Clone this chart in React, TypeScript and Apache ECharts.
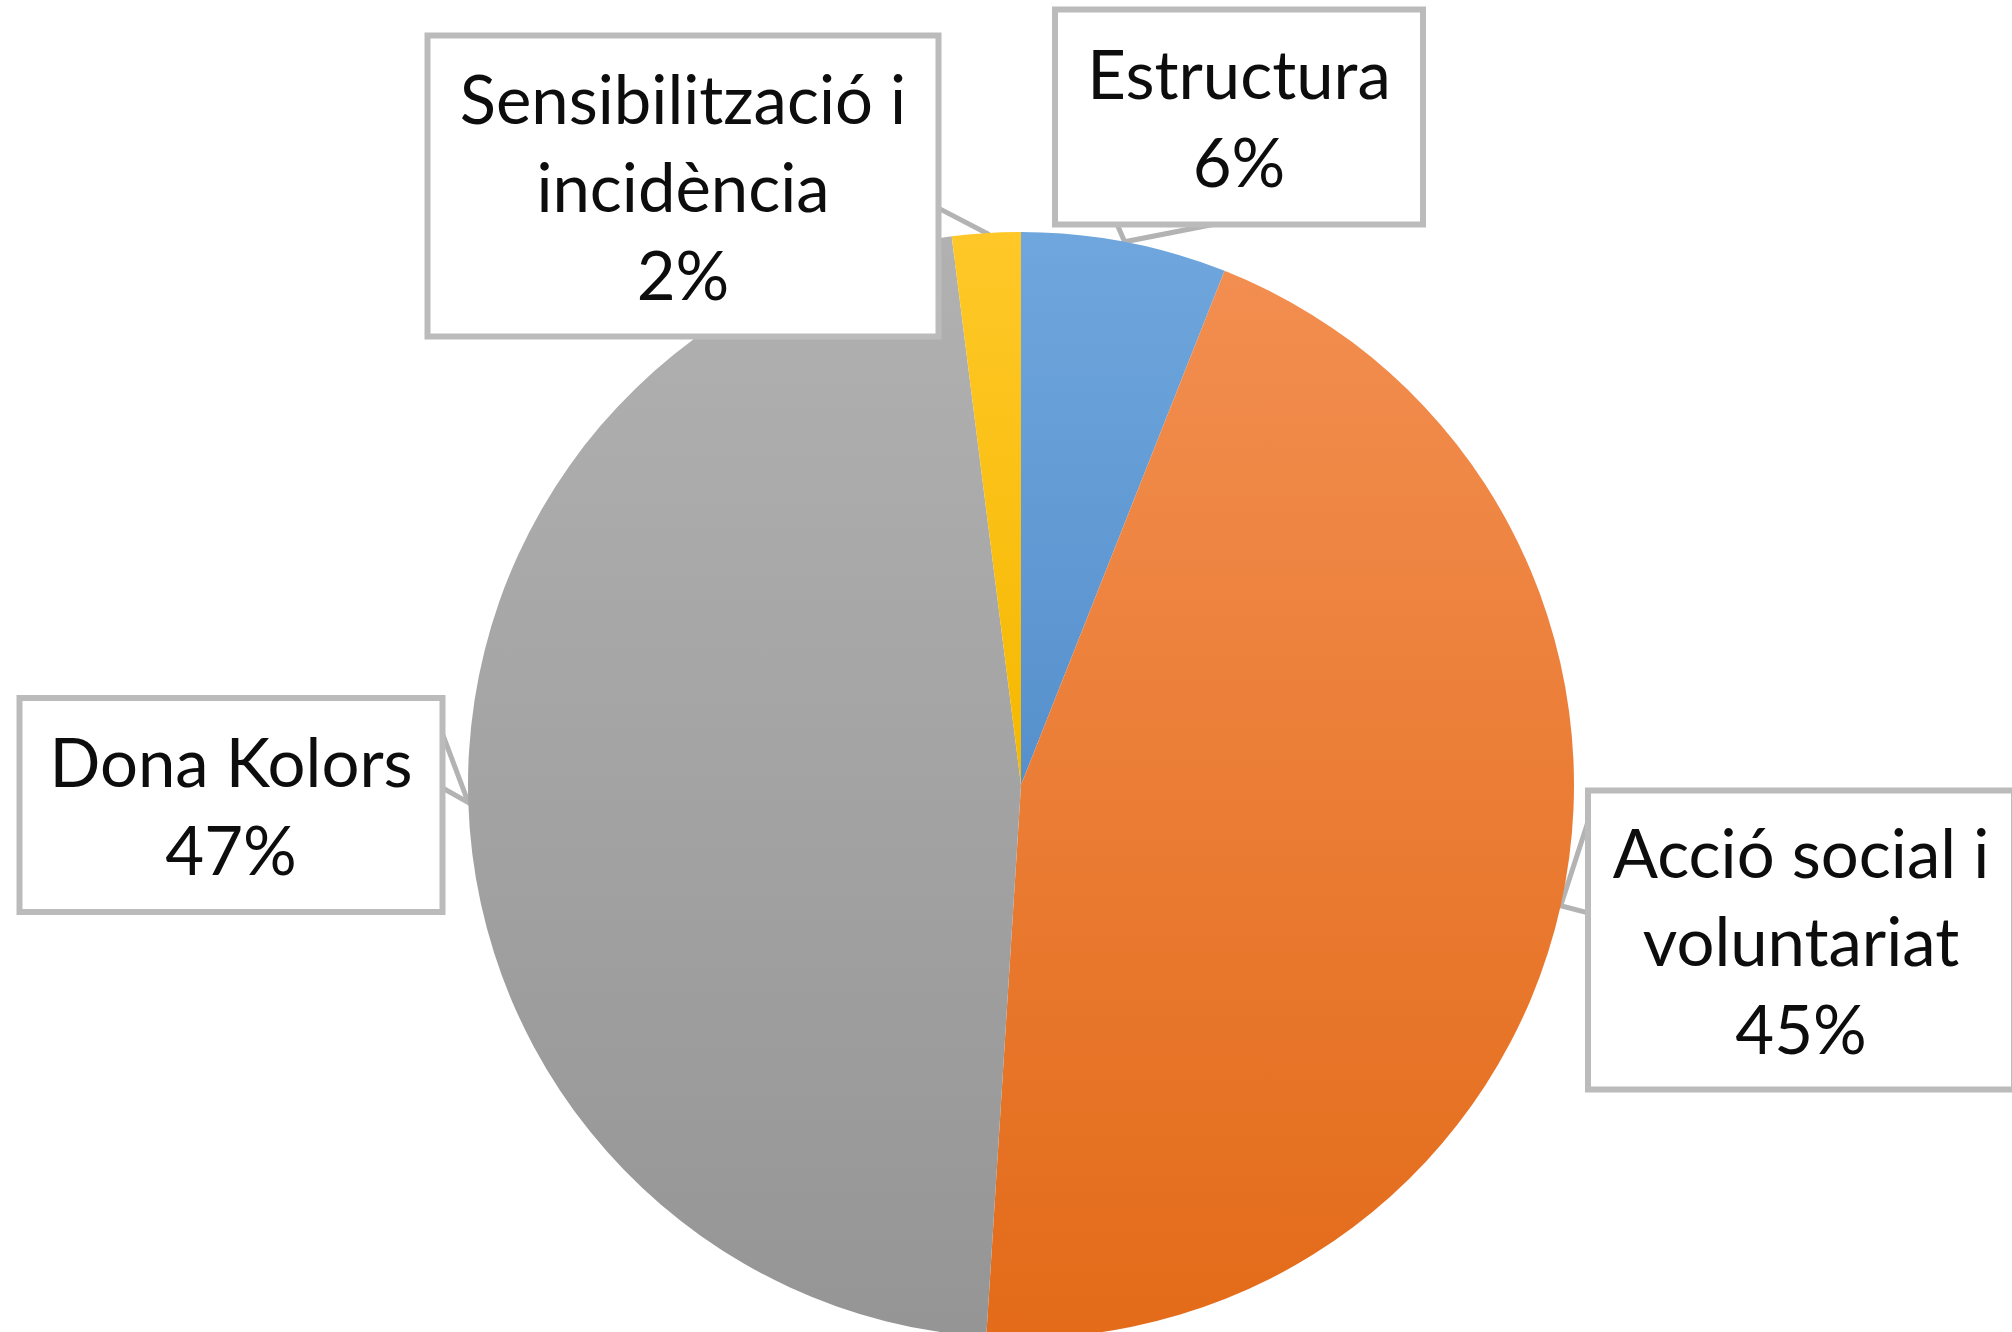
import React, { useEffect, useRef } from "react";
import * as echarts from "echarts";

// ---- data ----
const categories = [
  "Estructura",
  "Acció social i voluntariat",
  "Dona Kolors",
  "Sensibilització i incidència",
];
const values = [6, 45, 47, 2];

// ---- styles ----
const topColors = ["#6fa6dd", "#f28e50", "#b1b1b1", "#ffc828"];
const bottomColors = ["#5690cc", "#e36b19", "#959595", "#f5b800"];

// label callout boxes: centre, size, and where the pointer leaves the box
const labelBoxes = [
  { x: 1239, y: 117, w: 362, h: 209, side: "bottom", from: 0.16, to: 0.47 },
  { x: 1801, y: 940, w: 420, h: 293, side: "left", from: 0.065, to: 0.41 },
  { x: 231, y: 805, w: 417, h: 208, side: "right", from: 0.12, to: 0.41 },
  { x: 683, y: 186, w: 505, h: 295, side: "right", from: 0.57, to: 0.82 },
];

const FONT = 67;
const LINE_H = 88;

function wrapName(name: string): string {
  if (name.length > 15) {
    const i = name.lastIndexOf(" ");
    return name.slice(0, i) + "\n" + name.slice(i + 1);
  }
  return name;
}

export default function App() {
  const ref = useRef<HTMLDivElement>(null);

  useEffect(() => {
    if (!ref.current) return;
    const chart = echarts.init(ref.current, null, { renderer: "svg" });

    const data = categories.map((name, i) => {
      const b = labelBoxes[i];
      const lines = wrapName(name).split("\n").length + 1;
      const padV = Math.max(0, (b.h - lines * LINE_H) / 2);
      const padH = 14;
      return {
        name,
        value: values[i],
        itemStyle: {
          color: new echarts.graphic.LinearGradient(0, 0, 0, 1, [
            { offset: 0, color: topColors[i] },
            { offset: 1, color: bottomColors[i] },
          ]),
        },
        label: {
          width: b.w - 2 * padH,
          padding: [padV, padH, padV, padH],
        },
      };
    });

    chart.setOption({
      animation: false,
      backgroundColor: "#ffffff",
      series: [
        {
          type: "pie",
          center: [1021, 785],
          radius: 553,
          startAngle: 90,
          clockwise: true,
          avoidLabelOverlap: false,
          data,
          itemStyle: { borderWidth: 0 },
          emphasis: { disabled: true },
          label: {
            show: true,
            position: "outside",
            formatter: (p: any) => `${wrapName(p.name)}\n${p.percent}%`,
            fontFamily: "Lato, 'Open Sans', sans-serif",
            fontSize: FONT,
            lineHeight: LINE_H,
            color: "#0d0d0d",
            align: "center",
            backgroundColor: "#ffffff",
            borderColor: "#bbbbbb",
            borderWidth: 6,
            overflow: "none",
          },
          labelLine: {
            show: true,
            length: 20,
            length2: 20,
            smooth: false,
            lineStyle: { color: "#b3b3b3", width: 5 },
          },
          labelLayout: (p: any) => {
            const b = labelBoxes[p.dataIndex];
            const left = b.x - b.w / 2;
            const top = b.y - b.h / 2;
            let A: number[];
            let B: number[];
            if (b.side === "bottom") {
              A = [left + b.w * b.from, top + b.h];
              B = [left + b.w * b.to, top + b.h];
            } else if (b.side === "left") {
              A = [left, top + b.h * b.from];
              B = [left, top + b.h * b.to];
            } else {
              A = [left + b.w, top + b.h * b.from];
              B = [left + b.w, top + b.h * b.to];
            }
            const res: any = {
              x: b.x,
              y: b.y,
              align: "center",
              verticalAlign: "middle",
            };
            if (p.labelLinePoints && p.labelLinePoints[0]) {
              const tip = p.labelLinePoints[0];
              res.labelLinePoints = [A, [tip[0], tip[1]], B];
            }
            return res;
          },
        },
      ],
    });

    return () => chart.dispose();
  }, []);

  return (
    <div
      ref={ref}
      style={{
        position: "absolute",
        left: 0,
        top: 0,
        width: 2012,
        height: 1332,
        background: "#ffffff",
      }}
    />
  );
}
